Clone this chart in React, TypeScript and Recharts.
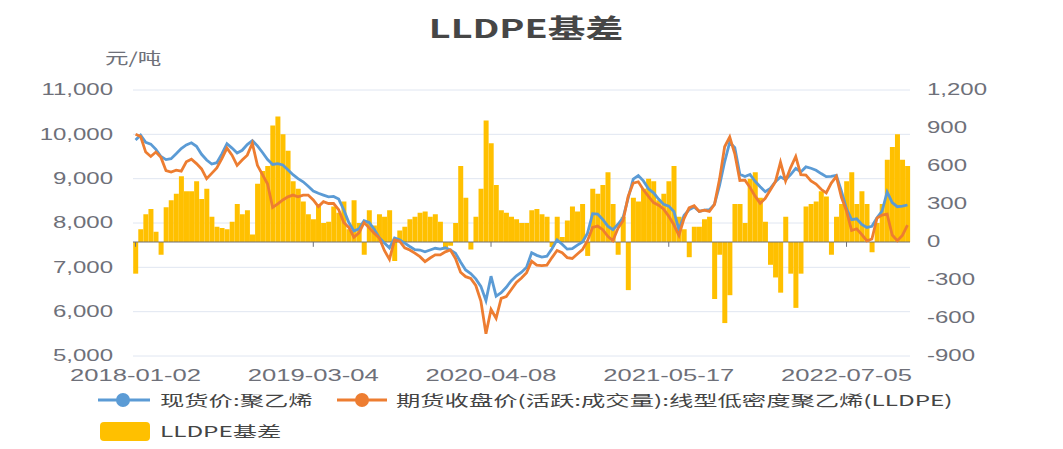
import React from 'react';
import { ComposedChart, Bar, Line, XAxis, YAxis, CartesianGrid, ReferenceLine } from 'recharts';

// 现货价:聚乙烯 (元/吨)
const spot = [
  9870, 9980, 9820, 9780, 9660, 9500, 9430, 9450, 9560, 9680,
  9760, 9810, 9730, 9550, 9420, 9330, 9360, 9560, 9790, 9690,
  9580, 9640, 9770, 9860, 9740, 9590, 9430, 9320, 9340, 9310,
  9200, 9090, 9000, 8930, 8830, 8720, 8670, 8630, 8590, 8600,
  8540, 8300, 8010, 7820, 7870, 8050, 8010, 7860, 7670, 7550,
  7440, 7660, 7620, 7545, 7470, 7400, 7390, 7350, 7390, 7430,
  7410, 7440, 7390, 7320, 7120, 6940, 6860, 6740, 6570, 6250,
  6800, 6350, 6430, 6550, 6700, 6810, 6890, 7000, 7330, 7270,
  7230, 7250, 7420, 7620, 7520, 7410, 7420, 7500, 7570, 7770,
  8210, 8200, 8080, 7930, 7850, 7970, 8120, 8560, 8990, 9070,
  8950, 8770, 8680, 8540, 8420, 8380, 8260, 7850, 8170, 8300,
  8360, 8260, 8290, 8300, 8420, 8850, 9380, 9820, 9700, 9100,
  9050, 9095, 8940, 8819, 8706, 8782, 8932, 9040, 8975, 9090,
  9230, 9150, 9265, 9235, 9190, 9115, 9045, 9050, 9075, 8720,
  8320, 8075, 8095, 7970, 7900, 7925, 8120, 8270, 8700, 8460,
  8368, 8380, 8406,
];

// 期货收盘价(活跃:成交量):线型低密度聚乙烯(LLDPE) (元/吨)
const futures = [
  10000, 9950, 9600, 9500, 9600, 9480, 9180, 9150, 9190, 9170,
  9380, 9440, 9340, 9220, 9000, 9120, 9240, 9450, 9690, 9530,
  9300, 9420, 9530, 9800, 9300, 9090, 8880, 8350, 8430, 8520,
  8590, 8630, 8590, 8630, 8630, 8520, 8370, 8480, 8440, 8440,
  8300, 8010, 7900, 7680, 7780, 8010, 7890, 7770, 7660, 7380,
  7180, 7620, 7590, 7440, 7390, 7320, 7240, 7130, 7210, 7280,
  7280, 7350, 7390, 7200, 6890, 6790, 6750, 6590, 6240, 5500,
  6050, 5850, 6300, 6340, 6500, 6660, 6760, 6880, 7140, 7050,
  7040, 7050, 7220, 7380, 7330, 7220, 7200, 7300, 7400, 7600,
  7900, 7930, 7850, 7700, 7600, 7880, 8050, 8600, 8900, 8930,
  8750, 8600, 8460, 8400, 8310, 8150, 7960, 7720, 8100, 8340,
  8390, 8260, 8290, 8260, 8420, 8990, 9720, 9940, 9560, 8960,
  8965, 8800, 8605, 8443, 8556, 8744, 8932, 9370, 8950, 9250,
  9500, 9090, 9080, 8950, 8880, 8760, 8680, 8900, 9050, 8580,
  8270, 7830, 7870, 7740, 7600, 7640, 8110, 8180, 8200, 7730,
  7600, 7720, 7950,
];

// LLDPE基差 (元/吨)
const basis = [
  -250, 100, 220, 260, 80, -100, 275, 330, 380, 520,
  400, 400, 480, 340, 420, 200, 120, 110, 100, 160,
  300, 220, 250, 60, 460, 560, 600, 920, 990, 850,
  720, 480, 420, 320, 220, 180, 300, 150, 160, 280,
  230, 320, 100, 330, 150, -100, 250, 130, 220, 200,
  250, -150, 90, 120, 180, 200, 230, 240, 200, 220,
  160, -60, -30, 150, 600, 350, -60, 200, 420, 960,
  780, 450, 250, 230, 200, 180, 150, 150, 250, 260,
  220, 200, -40, 200, 40, 170, 280, 240, 300, -110,
  420, 380, 450, 550, 300, -100, 200, -380, 350, 320,
  420, 500, 480, 330, 380, 480, 600, 200, 100, -120,
  120, 120, 180, 200, -450, -100, -640, -420, 300, 300,
  150, 500, 550, 350, 160, -180, -280, -400, 200, -250,
  -520, -250, 280, 300, 320, 400, 360, -100, 200, 300,
  480, 550, 300, 400, 300, -80, 150, 300, 650, 750,
  850, 650, 600,
];

const tickIndex = [0, 35, 70, 105, 140];
const tickLabels = ['2018-01-02', '2019-03-04', '2020-04-08', '2021-05-17', '2022-07-05'];
const leftTicks = [5000, 6000, 7000, 8000, 9000, 10000, 11000];
const rightTicks = [-900, -600, -300, 0, 300, 600, 900, 1200];

const seriesNames = ['现货价:聚乙烯', '期货收盘价(活跃:成交量):线型低密度聚乙烯(LLDPE)', 'LLDPE基差'];
const colors = { spot: '#5B9BD5', fut: '#ED7D31', basis: '#FFC000' };

const data = spot.map((s, i) => ({ i, spot: s, fut: futures[i], basis: basis[i] }));

const FONT = '"Noto Sans CJK SC", "Noto Sans", sans-serif';
const NUM_FONT = '"Liberation Sans", Arial, sans-serif';

const fmt = (v: number) => v.toLocaleString('en-US');

const makeTick = (anchor: 'start' | 'end' | 'middle', size: number, sx: number, formatter: (v: any) => string) =>
  (props: any) => {
    const { x, y, payload } = props;
    return (
      <g transform={`translate(${x},${y}) scale(${sx},1)`}>
        <text x={0} y={0} textAnchor={anchor} dominantBaseline="central" fill="#6E7079" fontSize={size} fontFamily={NUM_FONT}>
          {formatter(payload.value)}
        </text>
      </g>
    );
  };

const xLabel = (v: number) => {
  const k = tickIndex.indexOf(v);
  return k >= 0 ? tickLabels[k] : '';
};

const scaled = (sx: number): React.CSSProperties => ({
  display: 'inline-block',
  transform: `scaleX(${sx})`,
  transformOrigin: 'left center',
  whiteSpace: 'nowrap',
});

export default function App() {
  return (
    <div style={{ position: 'absolute', left: 0, top: 0, width: 1063, height: 449, background: '#fff', fontFamily: FONT }}>
      <div style={{ position: 'absolute', left: -6, width: 1063, top: 10, textAlign: 'center', lineHeight: '34px' }}>
        <span style={{ display: 'inline-block', transform: 'scaleX(1.45)', fontSize: 26, fontWeight: 700, color: '#464646' }}>
          LLDPE基差
        </span>
      </div>
      <div style={{ position: 'absolute', left: 105, top: 45, lineHeight: '24px', fontSize: 16, color: '#6E7079' }}>
        <span style={scaled(1.47)}>元/吨</span>
      </div>
      <div style={{ position: 'absolute', left: 0, top: 0 }}>
        <ComposedChart
          width={1063}
          height={449}
          data={data}
          margin={{ top: 90, right: 0, bottom: 0, left: 0 }}
          barCategoryGap="4%"
        >
          <CartesianGrid xAxisId="x" yAxisId="left" vertical={false} stroke="#E0E6F1" />
          <XAxis
            dataKey="i"
            type="category"
            xAxisId="x"
            height={93}
            interval={34}
            tickSize={0}
            tickMargin={20}
            axisLine={false}
            tickLine={false}
            tick={makeTick('middle', 16, 1.6, xLabel)}
          />
          <YAxis
            yAxisId="left"
            orientation="left"
            width={133}
            domain={[5000, 11000]}
            ticks={leftTicks}
            interval={0}
            allowDataOverflow
            tickSize={0}
            tickMargin={20}
            axisLine={false}
            tickLine={false}
            tick={makeTick('end', 16, 1.5, fmt)}
          />
          <YAxis
            yAxisId="right"
            orientation="right"
            width={153}
            domain={[-900, 1200]}
            ticks={rightTicks}
            interval={0}
            allowDataOverflow
            tickSize={0}
            tickMargin={17}
            axisLine={false}
            tickLine={false}
            tick={makeTick('start', 16, 1.5, fmt)}
          />
          <Bar xAxisId="x" yAxisId="right" dataKey="basis" name={seriesNames[2]} fill={colors.basis} isAnimationActive={false} />
          <ReferenceLine xAxisId="x" yAxisId="right" y={0} stroke="#6E7079" strokeWidth={1} />
          {tickIndex.map((t) => (
            <ReferenceLine
              key={t}
              xAxisId="x"
              yAxisId="right"
              segment={[{ x: t, y: 0 }, { x: t, y: -38 }]}
              stroke="#6E7079"
              strokeWidth={1}
              ifOverflow="visible"
            />
          ))}
          <Line xAxisId="x" yAxisId="left" dataKey="spot" name={seriesNames[0]} stroke={colors.spot} strokeWidth={2.8} dot={false} isAnimationActive={false} />
          <Line xAxisId="x" yAxisId="left" dataKey="fut" name={seriesNames[1]} stroke={colors.fut} strokeWidth={2.8} dot={false} isAnimationActive={false} />
        </ComposedChart>
      </div>
      {/* legend */}
      <div style={{ position: 'absolute', left: 0, top: 0, width: 1063, height: 449, pointerEvents: 'none' }}>
        <svg style={{ position: 'absolute', left: 0, top: 0 }} width={1063} height={449}>
          <line x1={98} x2={150} y1={400} y2={400} stroke={colors.spot} strokeWidth={3} />
          <circle cx={123} cy={400} r={7} fill={colors.spot} />
          <line x1={337} x2={387} y1={400} y2={400} stroke={colors.fut} strokeWidth={3} />
          <circle cx={362} cy={400} r={7} fill={colors.fut} />
          <rect x={100} y={422} width={50} height={19} rx={4} fill={colors.basis} />
        </svg>
        <div style={{ position: 'absolute', left: 160, top: 392, lineHeight: '16px', fontSize: 15, color: '#444' }}>
          <span style={scaled(1.62)}>{seriesNames[0]}</span>
        </div>
        <div style={{ position: 'absolute', left: 396, top: 392, lineHeight: '16px', fontSize: 15, color: '#444' }}>
          <span style={scaled(1.62)}>{seriesNames[1]}</span>
        </div>
        <div style={{ position: 'absolute', left: 160, top: 423, lineHeight: '16px', fontSize: 15, color: '#444' }}>
          <span style={scaled(1.62)}>{seriesNames[2]}</span>
        </div>
      </div>
    </div>
  );
}
